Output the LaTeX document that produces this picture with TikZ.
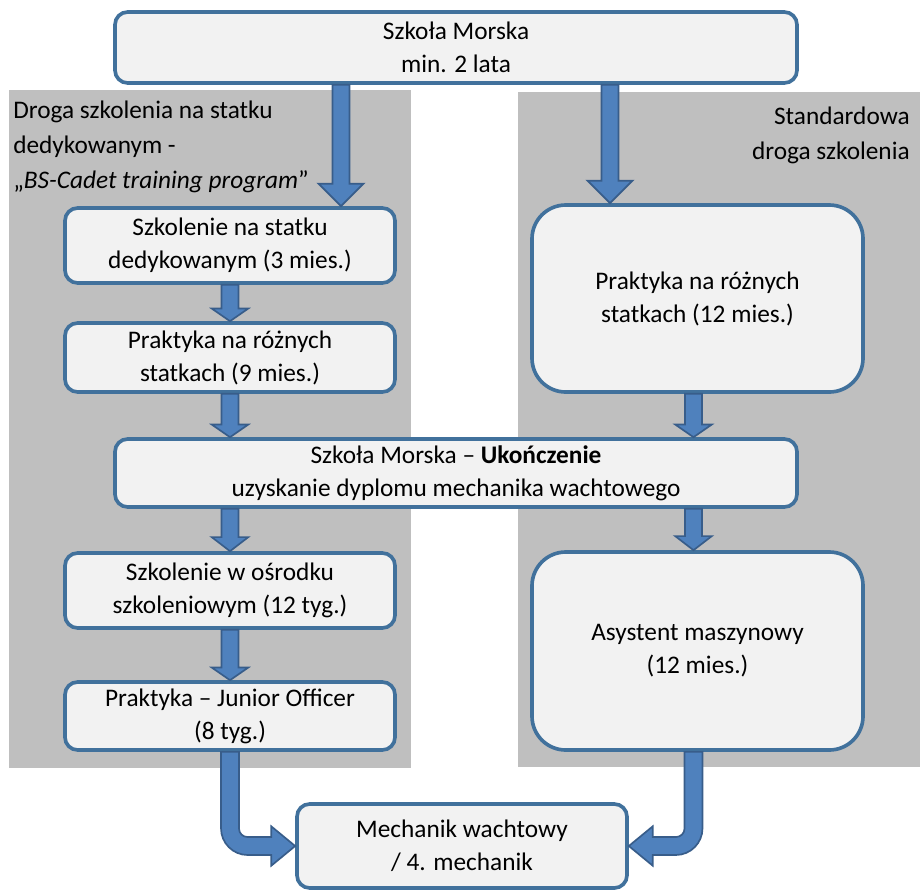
\documentclass[tikz,border=0pt]{standalone}
\usepackage{fontspec}
\setmainfont{Carlito}
\usetikzlibrary{calc}
\definecolor{panelgray}{RGB}{191,191,191}
\definecolor{boxfill}{RGB}{242,242,242}
\definecolor{boxline}{RGB}{65,113,156}
\definecolor{arrowfill}{RGB}{79,129,189}
\definecolor{arrowline}{RGB}{56,93,138}
\newlength\px
\setlength\px{0.025cm}

\begin{document}
\begin{tikzpicture}[
    % GLOBAL CFG
    x=1\px, y=-1\px,
    font=\fontsize{18}{23.5}\selectfont,
    % Styles
    panel/.style={% For the gray background of a path
        fill=panelgray,
        draw=none,
        },
    box/.style={% For the small boxes
        rectangle,
        rounded corners=9pt,
        draw=boxline,
        fill=boxfill,
        line width=2.6pt,
        align=center,
        inner sep=0pt,
        },
    bigbox/.style={% For the tall boxes on the right
        box,
        rounded corners=24pt,
        },
    title/.style={% For the texts on the panels
        inner sep=0pt,
        font=\fontsize{18}{24.9}\selectfont,
        },
    fatdown/.style 2 args={% Block arrow going down, #1 head length, #2 half head width
        fill=arrowfill,
        draw=arrowline,
        line width=1.2pt,
        to path={let \p1=(\tikztostart), \p2=(\tikztotarget) in
            (\x1-6pt,\y1) -- (\x1-6pt,\y2+#1) -- (\x1-#2,\y2+#1) -- (\x1,\y2)
            -- (\x1+#2,\y2+#1) -- (\x1+6pt,\y2+#1) -- (\x1+6pt,\y1) -- cycle},
        },
    fatbend/.style={% Block arrow going down then sideways, #1 = 1 right, -1 left
        fill=arrowfill,
        draw=arrowline,
        line width=1.2pt,
        to path={let \p1=(\tikztostart), \p2=(\tikztotarget) in
            ({\x1-(#1)*6.4pt},\y1) [rounded corners=19pt] -- ({\x1-(#1)*6.4pt},\y2-6.4pt)
            [sharp corners] -- ({\x2-(#1)*17pt},\y2-6.4pt) -- ({\x2-(#1)*17pt},\y2-14pt)
            -- (\x2,\y2) -- ({\x2-(#1)*17pt},\y2+14pt) -- ({\x2-(#1)*17pt},\y2+6.4pt)
            [rounded corners=6pt] -- ({\x1+(#1)*6.4pt},\y2+6.4pt)
            [sharp corners] -- ({\x1+(#1)*6.4pt},\y1) -- cycle},
        },
    ]
\useasboundingbox (0,0) rectangle (920,890);

%Start drawing the thing...
    % Draw the two gray paths
    \fill [panel] (9,90) rectangle (411,768);
    \fill [panel] (518,92) rectangle (920,767);
    \node [title, anchor=west, align=left] (ltitle) at (13,147)
        {Droga szkolenia na statku\\dedykowanym -\\„\textit{BS-Cadet training program}”};
    \node [title, anchor=east, align=right] (rtitle) at (910,135.5)
        {Standardowa\\droga szkolenia};

    % Draw the school boxes
    \node [box, minimum width=682\px, minimum height=71\px] (school) at (456,47.5) {Szkoła Morska\\min. 2 lata};
    \node [box, minimum width=682\px, minimum height=68\px] (finish) at (456,473)
        {Szkoła Morska – \textbf{Ukończenie}\\uzyskanie dyplomu mechanika wachtowego};

    % Draw the left path named lbox#
    \node [box, minimum width=330\px, minimum height=75\px] (lbox1) at (230,245.5) {Szkolenie na statku\\dedykowanym (3 mies.)};
    \node [box, minimum width=330\px, minimum height=69\px] (lbox2) at (230,357.5) {Praktyka na różnych\\statkach (9 mies.)};
    \node [box, minimum width=330\px, minimum height=75\px] (lbox3) at (230,590.5) {Szkolenie w ośrodku\\szkoleniowym (12 tyg.)};
    \node [box, minimum width=330\px, minimum height=68\px] (lbox4) at (230,716) {Praktyka – Junior Officer\\(8 tyg.)};

    % Draw the right path named rbox#
    \node [bigbox, minimum width=331\px, minimum height=187\px] (rbox1) at (697.5,298.5) {Praktyka na różnych\\statkach (12 mies.)};
    \node [bigbox, minimum width=331\px, minimum height=198\px] (rbox2) at (697.5,651) {Asystent maszynowy\\(12 mies.)};

    % End of both paths
    \node [box, minimum width=330\px, minimum height=84\px] (mech) at (462,846) {Mechanik wachtowy\\/ 4. mechanik};

% Start connecting all.
    \draw [fatdown={16pt}{16pt}] ([xshift=-115\px]school.south) to (lbox1.north);
    \draw [fatdown={16pt}{16pt}] ([xshift=154\px]school.south) to (rbox1.north);
    \draw [fatdown={9pt}{13pt}] (lbox1.south) to (lbox2.north);
    \draw [fatdown={9pt}{13pt}] (lbox2.south) to (finish.north);
    \draw [fatdown={9pt}{13pt}] ([xshift=-4\px]rbox1.south) to (finish.north);
    \draw [fatdown={10pt}{13pt}] (finish.south -| lbox3) to (lbox3.north);
    \draw [fatdown={10pt}{13pt}] ([xshift=-4\px]finish.south -| rbox2) to (rbox2.north);
    \draw [fatdown={9pt}{13pt}] (lbox3.south) to (lbox4.north);
    \draw [fatbend=1] (lbox4.south) to (mech.west);
    \draw [fatbend=-1] ([xshift=-4\px]rbox2.south) to (mech.east);
\end{tikzpicture}
\end{document}
